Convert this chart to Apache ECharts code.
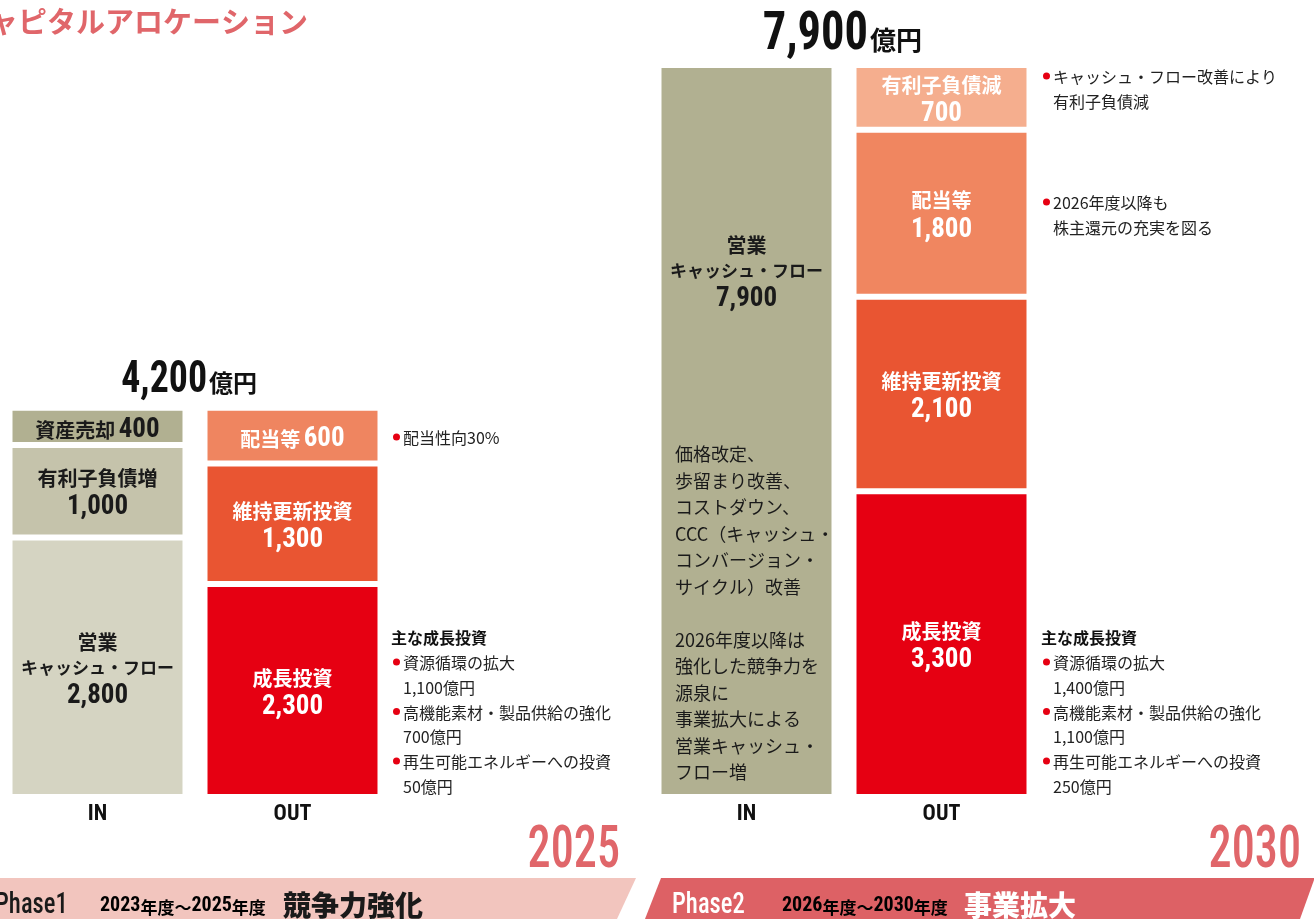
<!DOCTYPE html>
<html>
<head>
<meta charset="utf-8">
<title>キャピタルアロケーション</title>
<script src="https://cdn.jsdelivr.net/npm/echarts@6.0.0/dist/echarts.min.js"></script>
<style>
  html, body { margin: 0; padding: 0; background: #fff; }
  #main { width: 1314px; height: 919px; }
</style>
</head>
<body>
<div id="main"></div>
<script>
// --- data ---
const categories = ['IN', 'OUT']
const totals = [4200, 7900]
const years = ['2025', '2030']

const in2025Labels = ['営業\nキャッシュ・フロー', '有利子負債増', '資産売却']
const in2025Values = [2800, 1000, 400]
const out2025Labels = ['成長投資', '維持更新投資', '配当等']
const out2025Values = [2300, 1300, 600]

const in2030Labels = ['営業\nキャッシュ・フロー']
const in2030Values = [7900]
const out2030Labels = ['成長投資', '維持更新投資', '配当等', '有利子負債減']
const out2030Values = [3300, 2100, 1800, 700]

const in2030Note = ['価格改定、', '歩留まり改善、', 'コストダウン、', 'CCC（キャッシュ・', 'コンバージョン・', 'サイクル）改善', '',
  '2026年度以降は', '強化した競争力を', '源泉に', '事業拡大による', '営業キャッシュ・', 'フロー増']
const payout2025Note = ['配当性向30%']
const debt2030Note = ['キャッシュ・フロー改善により', '有利子負債減']
const payout2030Note = ['2026年度以降も', '株主還元の充実を図る']
const growthHeading = '主な成長投資'
const growth2025 = [['資源循環の拡大', '1,100億円'], ['高機能素材・製品供給の強化', '700億円'], ['再生可能エネルギーへの投資', '50億円']]
const growth2030 = [['資源循環の拡大', '1,400億円'], ['高機能素材・製品供給の強化', '1,100億円'], ['再生可能エネルギーへの投資', '250億円']]

const phaseNames = ['Phase1', 'Phase2']
const phaseSpans = ['2023年度〜2025年度', '2026年度〜2030年度']
const phaseThemes = ['競争力強化', '事業拡大']

// --- styles ---
const JP = "'Noto Sans CJK JP', sans-serif"
const NARROW = "'Roboto Condensed', 'Open Sans Condensed', sans-serif"
const RED = '#e60012'
const TITLE_RED = '#e0666a'
const in2025Colors = ['#d5d4c2', '#c5c3ab', '#b1b091']
const out2025Colors = ['#e60012', '#e95532', '#ef8560']
const in2030Colors = ['#b1b091']
const out2030Colors = ['#e60012', '#e95532', '#f08660', '#f5ae8e']

const chart = echarts.init(document.getElementById('main'))

function fmt (v) {
  return v.toLocaleString('en-US')
}

function segText (label, value) {
  if (value < 700) {
    return '{j|' + label + '} {n|' + fmt(value) + '}'
  }
  const lines = label.split('\n').map(l => (/[ァ-ヶー・]{5,}/.test(l) ? '{k|' + l + '}' : '{j|' + l + '}'))
  return lines.join('\n') + '\n{n|' + fmt(value) + '}'
}

function richFor (color) {
  return {
    j: { fontFamily: JP, fontWeight: 'bold', fontSize: 20, lineHeight: 25, color: color },
    k: { fontFamily: JP, fontWeight: 'bold', fontSize: 17, lineHeight: 25, color: color },
    n: { fontFamily: NARROW, fontWeight: 'bold', fontSize: 27, lineHeight: 33, color: color }
  }
}

function stack (grid, slot, labels, values, colors, textColor, extraLabel) {
  return values.map((v, i) => ({
    type: 'bar',
    name: labels[i],
    xAxisIndex: grid,
    yAxisIndex: grid,
    stack: 'g' + grid,
    barWidth: 176,
    silent: true,
    data: slot === 0 ? [v, '-'] : ['-', v],
    itemStyle: { color: colors[i], borderColor: '#fff', borderWidth: 3 },
    label: Object.assign({
      show: true,
      position: 'inside',
      offset: [0, 4],
      formatter: () => segText(labels[i], v),
      rich: richFor(textColor)
    }, extraLabel || {})
  }))
}

// text helpers for notes
function noteLines (x, y, lines, step, bullet) {
  const out = []
  lines.forEach((t, i) => {
    out.push({
      type: 'text', x: x + 10, y: y + i * step, z: 10,
      style: { text: t, fontFamily: JP, fontSize: 16, fill: '#222', verticalAlign: 'middle' }
    })
  })
  if (bullet) {
    out.push({ type: 'circle', z: 10, shape: { cx: x + 3.5, cy: y - 1, r: 3.5 }, style: { fill: RED } })
  }
  return out
}

function growthBlock (x, y, items) {
  const out = [{
    type: 'text', x: x - 2, y: y, z: 10,
    style: { text: growthHeading, fontFamily: JP, fontWeight: 'bold', fontSize: 16, fill: '#111', verticalAlign: 'middle' }
  }]
  items.forEach((it, i) => {
    out.push(...noteLines(x, y + 25 + i * 49.5, it, 24.5, true))
  })
  return out
}

function phaseBand (pts, color) {
  return { type: 'polygon', shape: { points: pts }, style: { fill: color } }
}

function phaseTexts (i, xs, fg) {
  return [
    {
      type: 'text', x: xs[0], y: 906, z: 10, scaleX: 0.85,
      style: { text: phaseNames[i], fontFamily: NARROW, fontWeight: 500, fontSize: 29, fill: fg, verticalAlign: 'middle' }
    },
    {
      type: 'text', x: xs[1], y: 906, z: 10,
      style: {
        text: '{s|' + phaseSpans[i].replace(/(\d+)/g, '}{d|$1}{s|') + '}',
        verticalAlign: 'middle',
        rich: {
          d: { fontFamily: NARROW, fontWeight: 'bold', fontSize: 20, color: fg, verticalAlign: 'bottom', lineHeight: 20 },
          s: { fontFamily: JP, fontWeight: 'bold', fontSize: 17, color: fg, verticalAlign: 'bottom', lineHeight: 20 }
        }
      }
    },
    {
      type: 'text', x: xs[2], y: 905, z: 10,
      style: { text: phaseThemes[i], fontFamily: JP, fontWeight: 900, fontSize: 28, fill: fg, verticalAlign: 'middle' }
    }
  ]
}

// "4,200億円": the number is narrowed, the unit follows it
function totalText (cx, midY, baseY, value, big, small) {
  const split = cx + 14 + (big - 44) * 1.0
  return [
    {
      type: 'text', x: split, y: midY, z: 10, scaleX: 0.86,
      style: { text: fmt(value), fontFamily: NARROW, fontWeight: 'bold', fontSize: big, fill: '#111', align: 'right', verticalAlign: 'middle' }
    },
    {
      type: 'text', x: split + 2, y: baseY, z: 10,
      style: { text: '億円', fontFamily: JP, fontWeight: 'bold', fontSize: small, fill: '#111', align: 'left', verticalAlign: 'bottom' }
    }
  ]
}

function yearText (xr, text) {
  return {
    type: 'text', x: xr, y: 852, scaleX: 0.77, z: 10,
    style: { text: text, fontFamily: NARROW, fontWeight: 500, fontSize: 60, fill: TITLE_RED, align: 'right', verticalAlign: 'middle' }
  }
}

const option = {
  backgroundColor: '#fff',
  animation: false,
  grid: [
    { left: -2, top: 65, width: 392, height: 732 },
    { left: 649, top: 65, width: 390, height: 732 }
  ],
  xAxis: [0, 1].map(i => ({
    type: 'category',
    gridIndex: i,
    data: categories,
    axisLine: { show: false },
    axisTick: { show: false },
    axisLabel: { fontFamily: NARROW, fontWeight: 'bold', fontSize: 22, color: '#111', margin: 6 }
  })),
  yAxis: [0, 1].map(i => ({
    type: 'value',
    gridIndex: i,
    min: 0,
    max: 7900,
    show: false
  })),
  series: [
    ...stack(0, 0, in2025Labels, in2025Values, in2025Colors, '#1a1a1a'),
    ...stack(0, 1, out2025Labels, out2025Values, out2025Colors, '#fff'),
    ...stack(1, 0, in2030Labels, in2030Values, in2030Colors, '#1a1a1a', {
      position: ['50%', 168], offset: [0, 0], align: 'center', verticalAlign: 'top'
    }),
    ...stack(1, 1, out2030Labels, out2030Values, out2030Colors, '#fff')
  ],
  graphic: [
    {
      type: 'text', x: -40, y: 22,
      style: { text: 'キャピタルアロケーション', fontFamily: JP, fontWeight: 'bold', fontSize: 29, fill: TITLE_RED, verticalAlign: 'middle' }
    },
    ...totalText(193, 381, 395, totals[0], 44, 24),
    ...totalText(844, 35, 53, totals[1], 54, 26),
    {
      type: 'text', x: 675, y: 441, z: 10,
      style: { text: in2030Note.join('\n'), fontFamily: JP, fontSize: 18, lineHeight: 26.5, fill: '#1a1a1a' }
    },
    ...noteLines(393, 438, payout2025Note, 24.5, true),
    ...growthBlock(393, 638, growth2025),
    ...noteLines(1043, 77, debt2030Note, 24.5, true),
    ...noteLines(1043, 203, payout2030Note, 24.5, true),
    ...growthBlock(1043, 638, growth2030),
    yearText(620, years[0]),
    yearText(1301, years[1]),
    phaseBand([[0, 878], [636, 878], [617, 919], [0, 919]], '#f2c5be'),
    phaseBand([[661, 878], [1314, 878], [1314, 880], [1300, 919], [645, 919]], '#dd6165'),
    ...phaseTexts(0, [-5, 100, 283], '#1a1a1a'),
    ...phaseTexts(1, [672, 782, 964], '#fff')
  ]
}

chart.setOption(option)
</script>
</body>
</html>
